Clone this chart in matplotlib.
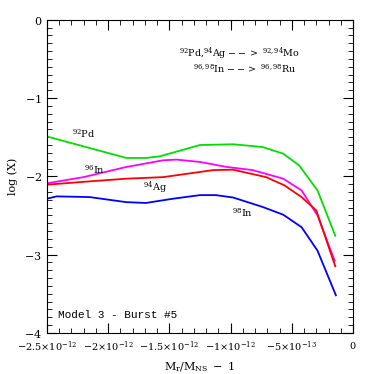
import matplotlib.pyplot as plt
from matplotlib.ticker import MultipleLocator

# x in units of 1e-12 (M_r/M_NS - 1)
pd_x = [-2.5, -1.85, -1.69, -1.58, -1.25, -0.98, -0.74, -0.57, -0.44, -0.29, -0.145]
pd_y = [-1.49, -1.765, -1.765, -1.745, -1.60, -1.59, -1.625, -1.71, -1.86, -2.18, -2.76]

in96_x = [-2.5, -2.20, -1.85, -1.55, -1.44, -1.25, -1.03, -0.82, -0.57, -0.42, -0.29, -0.15]
in96_y = [-2.09, -2.01, -1.88, -1.795, -1.786, -1.816, -1.88, -1.92, -2.03, -2.18, -2.50, -3.08]

ag_x = [-2.5, -2.20, -1.85, -1.55, -1.14, -0.98, -0.71, -0.56, -0.42, -0.30, -0.145]
ag_y = [-2.107, -2.07, -2.03, -2.01, -1.92, -1.915, -2.01, -2.115, -2.265, -2.436, -3.15]

in98_x = [-2.5, -2.42, -2.15, -1.85, -1.69, -1.47, -1.25, -1.12, -0.98, -0.74, -0.57, -0.42, -0.29, -0.14]
in98_y = [-2.286, -2.256, -2.265, -2.33, -2.34, -2.286, -2.24, -2.24, -2.27, -2.39, -2.49, -2.65, -2.95, -3.52]

xticks = [-2.5, -2.0, -1.5, -1.0, -0.5, 0.0]
xticklabels = [r'$-2.5{\times}10^{-12}$', r'$-2{\times}10^{-12}$', r'$-1.5{\times}10^{-12}$',
               r'$-1{\times}10^{-12}$', r'$-5{\times}10^{-13}$', r'$0$']

plt.rcParams['font.family'] = 'DejaVu Serif'
plt.rcParams['mathtext.fontset'] = 'dejavuserif'

fig = plt.figure(figsize=(3.74, 3.74), dpi=100)
ax = fig.add_axes([0.125, 0.11, 0.819, 0.837])

ax.plot(pd_x, pd_y, color='#00e000', lw=1.3)
ax.plot(in96_x, in96_y, color='#ff00ff', lw=1.3)
ax.plot(ag_x, ag_y, color='#ff0000', lw=1.3)
ax.plot(in98_x, in98_y, color='#0000ff', lw=1.3)

ax.set_xlim(-2.5, 0)
ax.set_ylim(-4, 0)
ax.set_xticks(xticks)
ax.set_xticklabels(xticklabels, fontsize=7)
ax.set_yticks([0, -1, -2, -3, -4])
ax.set_yticklabels([r'$0$', r'$-1$', r'$-2$', r'$-3$', r'$-4$'], fontsize=8)
ax.xaxis.set_minor_locator(MultipleLocator(0.1))
ax.yaxis.set_minor_locator(MultipleLocator(0.1))
ax.tick_params(which='both', direction='in', top=True, right=True)
ax.tick_params(which='major', length=7, width=0.8)
ax.tick_params(which='minor', length=3.5, width=0.6)
ax.tick_params(axis='x', pad=5)

ax.set_xlabel(r'$\mathrm{M_r/M_{NS}\ -\ 1}$', fontsize=8)
ax.set_ylabel('log (X)', fontsize=8)

fs = 7
ax.text(-2.29, -1.45, r'$^{92}$Pd', fontsize=fs, va='center')
ax.text(-2.2, -1.91, r'$^{96}$In', fontsize=fs, va='center')
ax.text(-1.715, -2.14, r'$^{94}$Ag', fontsize=fs, va='center')
ax.text(-0.99, -2.46, r'$^{98}$In', fontsize=fs, va='center')
ax.text(-0.437, -0.43, r'$^{92}$Pd,$^{94}$Ag $-->$ $^{92,94}$Mo', fontsize=6.8, ha='right', va='center')
ax.text(-0.46, -0.63, r'$^{96,98}$In $-->$ $^{96,98}$Ru', fontsize=6.8, ha='right', va='center')
ax.text(-2.41, -3.77, 'Model 3 - Burst #5', fontsize=8, family='Liberation Mono', va='center')

plt.savefig('out.png', dpi=100)
